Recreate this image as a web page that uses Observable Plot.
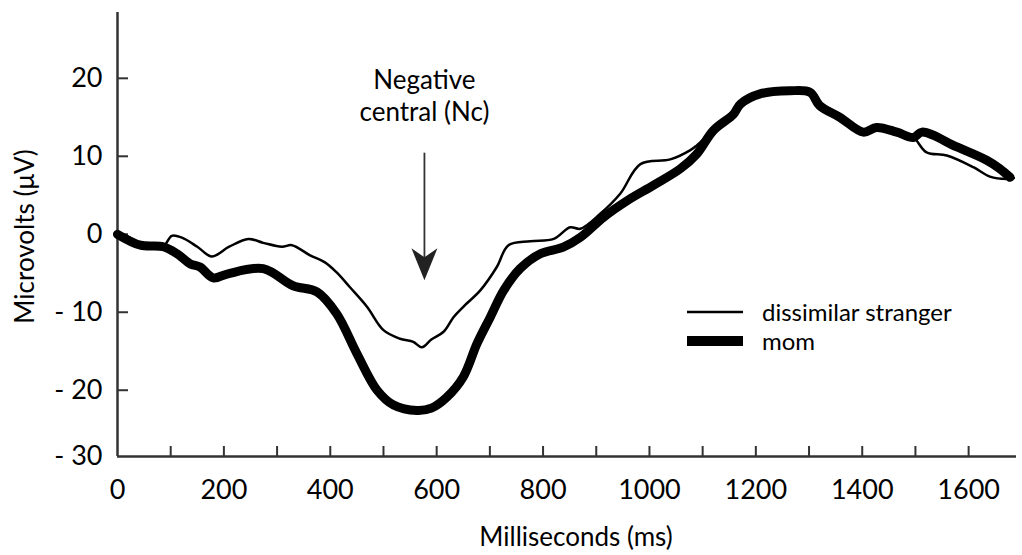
<!DOCTYPE html>
<html>
<head>
<meta charset="utf-8">
<script src="https://cdn.jsdelivr.net/npm/d3@7"></script>
<script src="https://cdn.jsdelivr.net/npm/@observablehq/plot@0.6"></script>
<style>
  html, body { margin: 0; padding: 0; background: #fff; }
  #wrap { position: relative; width: 1022px; height: 555px; font-family: Lato, "Noto Sans", sans-serif; }
  #legend { position: absolute; left: 687px; top: 297px; font-size: 24px; color: #000; }
  .row { display: flex; align-items: center; height: 29px; }
  .row svg { margin-right: 19px; flex: none; }
  .row span { white-space: nowrap; }
</style>
</head>
<body>
<div id="wrap"><div id="legend"></div></div>
<script>
// ---- data ----
const strangerX = [0, 20, 43, 86, 102, 120, 150, 177, 210, 246, 274, 309, 328, 362, 390, 412, 437, 469, 500, 531, 556, 572, 590, 613, 632, 650, 682, 713, 735, 776, 820, 851, 870, 907, 945, 983, 1039, 1077, 1089, 1120, 1158, 1171, 1208, 1264, 1302, 1320, 1358, 1402, 1427, 1465, 1496, 1521, 1559, 1609, 1640, 1672, 1685];
const strangerY = [0.1, -0.3, -1.2, -1.5, -0.2, -0.4, -1.6, -2.85, -1.6, -0.6, -1.1, -1.6, -1.4, -2.7, -3.6, -4.9, -6.8, -9.3, -12.3, -13.4, -13.8, -14.5, -13.5, -12.5, -10.6, -9.3, -7.2, -4.2, -1.4, -0.9, -0.6, 0.9, 0.7, 2.6, 5.2, 9.0, 9.6, 10.8, 11.4, 13.3, 15.4, 16.7, 18.0, 18.4, 18.2, 16.5, 15.0, 13.1, 13.7, 13.1, 12.4, 10.5, 10.1, 8.6, 7.4, 7.1, 7.2];
const momX = [0, 43, 86, 112, 137, 155, 180, 206, 274, 330, 375, 412, 450, 488, 519, 563, 590, 619, 650, 676, 701, 726, 757, 795, 838, 870, 914, 958, 1008, 1058, 1089, 1120, 1158, 1171, 1208, 1264, 1302, 1320, 1358, 1402, 1427, 1465, 1496, 1512, 1578, 1634, 1659, 1678];
const momY = [0, -1.4, -1.6, -2.5, -3.8, -4.2, -5.6, -5.1, -4.4, -6.6, -7.4, -10.2, -15.3, -20, -21.9, -22.6, -22.3, -20.9, -18.3, -14.0, -10.6, -7.2, -4.4, -2.5, -1.65, -0.4, 2.2, 4.3, 6.3, 8.4, 10.3, 13.3, 15.4, 16.7, 18.0, 18.4, 18.2, 16.5, 15.0, 13.1, 13.7, 13.1, 12.4, 13.1, 11.2, 9.5, 8.4, 7.3];

const seriesNames = ["dissimilar stranger", "mom"];
const xMinorTicks = [100, 200, 300, 400, 500, 600, 700, 800, 900, 1000, 1100, 1200, 1300, 1400, 1500, 1600];
const xTickLabels = [0, 200, 400, 600, 800, 1000, 1200, 1400, 1600];
const yTickLabels = [-30, -20, -10, 0, 10, 20];
const yAxisFloor = -28.5;   // the drawn axis stops here and is labelled "- 30"
const yAxisTop = 28.44;
const xAxisEnd = 1690;

const annotationText = ["Negative\ncentral (Nc)"];
const annotationX = 577;
const annotationTextY = 17.9;
const arrowTopY = 10.4;
const arrowTipY = -5.9;

// ---- build ----
const stranger = strangerX.map((x, i) => ({x, y: strangerY[i]}));
const mom = momX.map((x, i) => ({x, y: momY[i]}));
const yTickPos = yTickLabels.map(v => Math.max(v, yAxisFloor));
const fmtY = d => {
  const v = yTickLabels[yTickPos.indexOf(d)];
  return v < 0 ? "- " + Math.abs(v) : String(v);
};

const W = 1022, H = 555, mL = 117, mR = 6, mT = 12, mB = 99;
const frameW = W - mL - mR, frameH = H - mT - mB;

const arrowHead = {
  draw(ctx) {
    ctx.moveTo(0, 0);
    ctx.lineTo(-13, -32);
    ctx.lineTo(0, -23);
    ctx.lineTo(13, -32);
    ctx.closePath();
  }
};

const axisColor = "#333";

const chart = Plot.plot({
  width: W, height: H,
  marginLeft: mL, marginRight: mR, marginTop: mT, marginBottom: mB,
  x: {domain: [0, xAxisEnd]},
  y: {domain: [yAxisFloor, yAxisTop]},
  style: {fontFamily: "Lato, 'Noto Sans', sans-serif", fontSize: "26px", color: "#000", background: "#fff"},
  marks: [
    // axis lines
    Plot.ruleX([0], {stroke: axisColor, strokeWidth: 2.5}),
    Plot.ruleY([yAxisFloor], {stroke: axisColor, strokeWidth: 2.5}),
    // inward ticks
    Plot.ruleX(xMinorTicks, {stroke: axisColor, strokeWidth: 2, insetTop: frameH - 10}),
    Plot.ruleY(yTickPos.filter(d => d > yAxisFloor), {stroke: axisColor, strokeWidth: 2, insetRight: frameW - 11}),
    // tick labels
    Plot.axisX(xTickLabels, {tickSize: 0, tickPadding: 23, fontSize: 27, label: null, tickFormat: d => String(d)}),
    Plot.axisY(yTickPos, {tickSize: 0, tickPadding: 15, fontSize: 27, label: null, tickFormat: fmtY}),
    // axis titles
    Plot.text(["Milliseconds (ms)"], {frameAnchor: "bottom", textAnchor: "middle", lineAnchor: "middle", dx: 9, dy: 81, fontSize: 26, text: d => d}),
    Plot.text(["Microvolts (μV)"], {frameAnchor: "left", textAnchor: "middle", lineAnchor: "middle", rotate: -90, dx: -92, dy: 2, fontSize: 26, text: d => d}),
    // series
    Plot.line(mom, {x: "x", y: "y", stroke: "#000", strokeWidth: 9, curve: "catmull-rom", strokeLinejoin: "round", strokeLinecap: "round"}),
    Plot.line(stranger, {x: "x", y: "y", stroke: "#000", strokeWidth: 2.5, curve: "catmull-rom", strokeLinejoin: "round"}),
    // annotation
    Plot.text(annotationText, {x: annotationX, y: annotationTextY, text: d => d, fontSize: 26, lineHeight: 1.22}),
    Plot.ruleX([annotationX], {y1: arrowTopY, y2: arrowTipY, stroke: axisColor, strokeWidth: 1.8, insetBottom: 20}),
    Plot.dot([annotationX], {x: d => d, y: arrowTipY, symbol: arrowHead, fill: "#222", stroke: "none", r: 5})
  ]
});
document.getElementById("wrap").prepend(chart);

// legend
const legend = document.getElementById("legend");
const widths = {"dissimilar stranger": 2.5, "mom": 10};
for (const name of seriesNames) {
  const row = document.createElement("div");
  row.className = "row";
  const sw = widths[name];
  row.innerHTML = `<svg width="56" height="14"><line x1="0" x2="56" y1="7" y2="7" stroke="#000" stroke-width="${sw}"/></svg><span>${name}</span>`;
  legend.appendChild(row);
}
</script>
</body>
</html>
